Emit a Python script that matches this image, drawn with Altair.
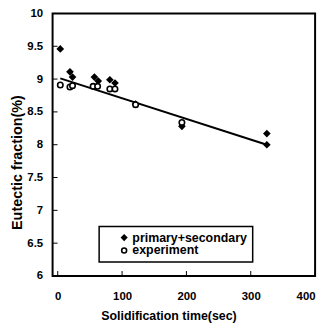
import altair as alt
import pandas as pd

# primary+secondary (filled diamonds)
prim_x = [4, 19, 23, 57, 63, 81, 89, 121, 193, 325, 325]
prim_y = [9.46, 9.11, 9.03, 9.03, 8.97, 8.99, 8.94, 8.62, 8.28, 8.17, 8.0]
# experiment (open circles)
exp_x = [4, 19, 23, 55, 62, 81, 89, 121, 193]
exp_y = [8.91, 8.88, 8.90, 8.89, 8.89, 8.85, 8.85, 8.61, 8.34]
# fitted line
fit_x = [4, 325]
fit_y = [9.01, 8.0]

series_names = ["primary+secondary", "experiment"]
x_ticks = [0, 100, 200, 300, 400]
y_ticks = [6, 6.5, 7, 7.5, 8, 8.5, 9, 9.5, 10]

pts = pd.DataFrame(
    {"x": prim_x + exp_x,
     "y": prim_y + exp_y,
     "s": [series_names[0]] * len(prim_x) + [series_names[1]] * len(exp_x)}
)
fit = pd.DataFrame({"x": fit_x, "y": fit_y})

FONT = "Liberation Sans"

xscale = alt.Scale(domain=[-8, 400], nice=False, zero=False)
yscale = alt.Scale(domain=[6, 10], nice=False, zero=False)

xaxis = alt.Axis(values=x_ticks, title="Solidification time(sec)", tickSize=0, format="~f",
                 labelPadding=15, titlePadding=7, domain=False, grid=False,
                 titleX=117, titleFontSize=12.5)
yaxis = alt.Axis(values=y_ticks, title="Eutectic fraction(%)", tickSize=0, format="~f",
                 labelPadding=10, titlePadding=2, domain=False, grid=False,
                 titleY=150, titleFontSize=14.5)

line = alt.Chart(fit).mark_line(color="black", strokeWidth=2).encode(
    x=alt.X("x:Q", scale=xscale, axis=xaxis),
    y=alt.Y("y:Q", scale=yscale, axis=yaxis),
)

points = alt.Chart(pts).mark_point(size=30, strokeWidth=1.6, opacity=1).encode(
    x=alt.X("x:Q", scale=xscale, axis=xaxis),
    y=alt.Y("y:Q", scale=yscale, axis=yaxis),
    shape=alt.Shape("s:N", scale=alt.Scale(domain=series_names, range=["diamond", "circle"]),
                    legend=alt.Legend(title=None)),
    fill=alt.Fill("s:N", scale=alt.Scale(domain=series_names, range=["black", "white"]),
                  legend=alt.Legend(title=None)),
    color=alt.value("black"),
)

yt = alt.Chart(pd.DataFrame({"v": y_ticks})).mark_rule(color="black", strokeWidth=1).encode(
    y=alt.Y("v:Q", scale=yscale, axis=yaxis), x=alt.value(0), x2=alt.value(5)
)
xt = alt.Chart(pd.DataFrame({"v": x_ticks})).mark_rule(color="black", strokeWidth=1).encode(
    x=alt.X("v:Q", scale=xscale, axis=xaxis), y=alt.value(265), y2=alt.value(260)
)

chart = alt.layer(line, points, yt, xt).properties(
    width=265, height=265, autosize="none",
    padding={"left": 45, "top": 4, "right": 10, "bottom": 50},
).configure_view(
    stroke="black", strokeWidth=2
).configure_axis(
    labelFont=FONT, labelFontSize=11.5, labelFontWeight="bold", labelColor="black",
    titleFont=FONT, titleFontWeight="bold", titleColor="black",
).configure_legend(
    orient="none", legendX=47, legendY=215, strokeColor="black", strokeWidth=1.5,
    padding=5, labelFont=FONT, labelFontSize=12.5, labelFontWeight="bold", labelColor="black",
    symbolSize=25, symbolOffset=14, rowPadding=0, labelOffset=2, symbolStrokeWidth=1.6,
    fillColor="white",
)

chart.save("out.html", embed_options={"renderer": "svg", "actions": False})
